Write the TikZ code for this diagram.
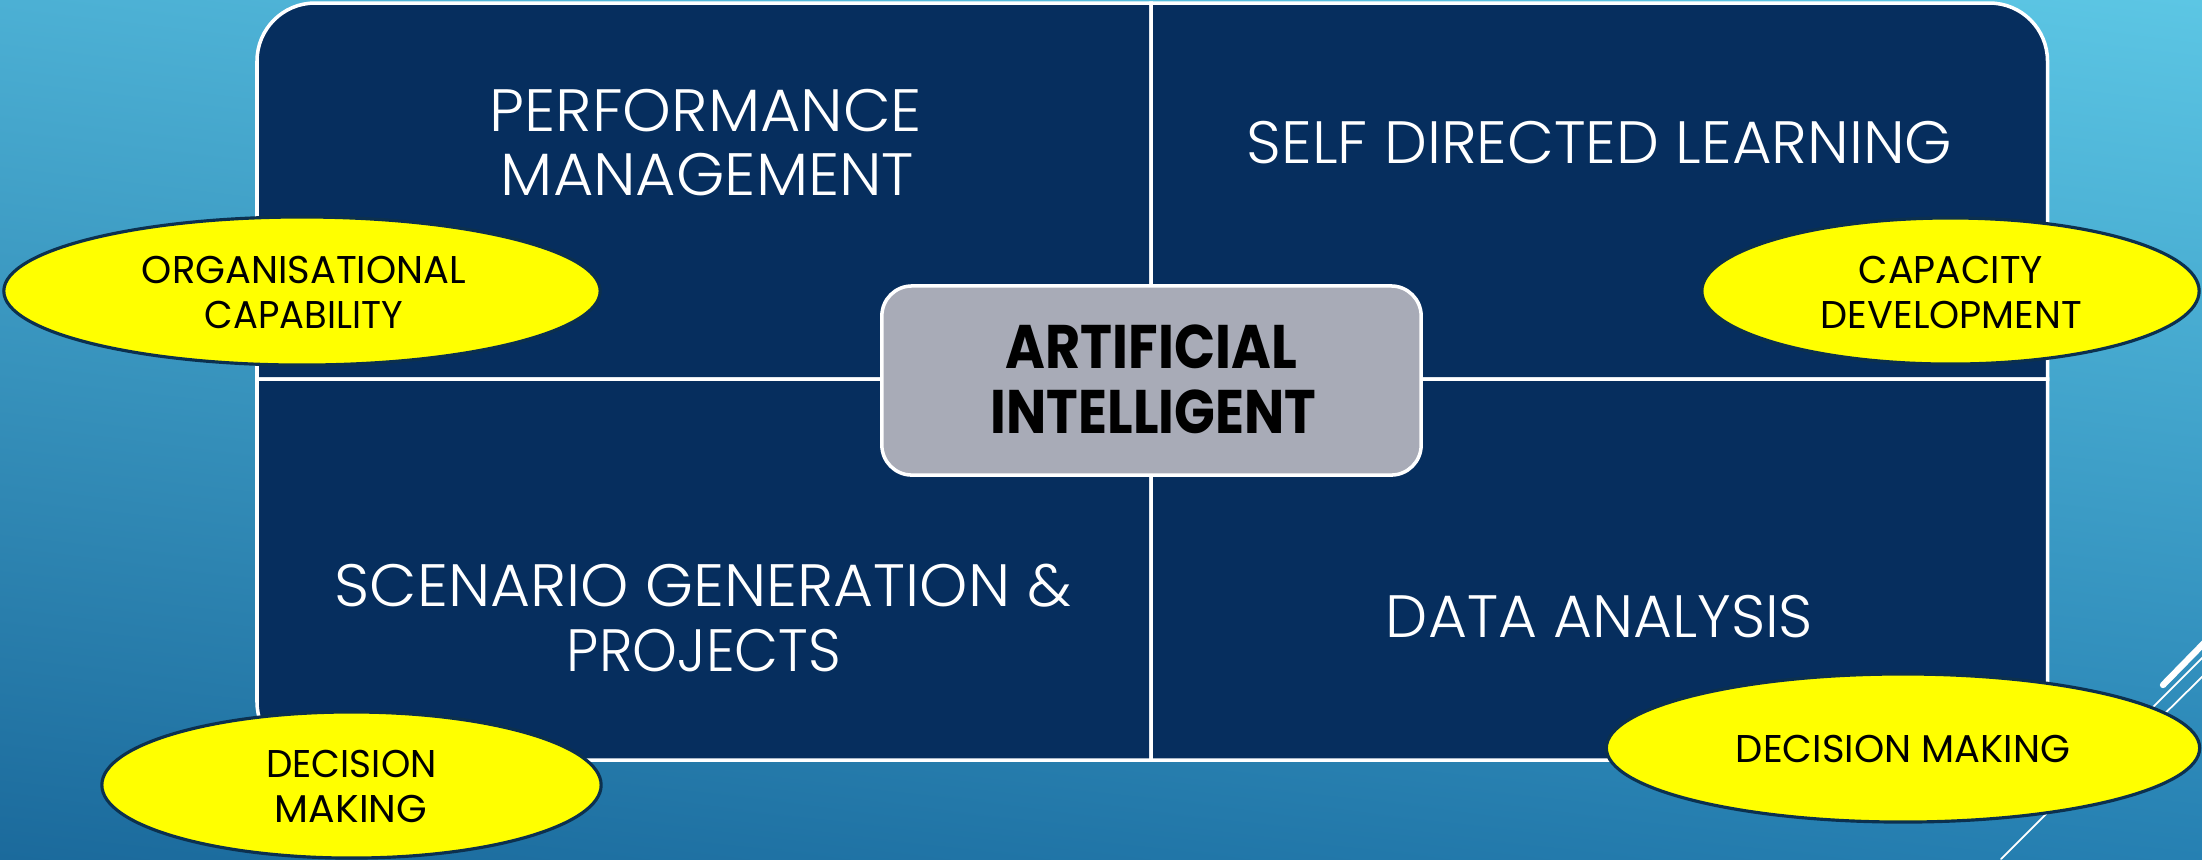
\documentclass[tikz,border=0pt]{standalone}
\usepackage{fontspec}
\usepackage{graphicx}
\setmainfont{Poppins}
\IfFontExistsTF{Poppins Light}{\newfontfamily\qfont{Poppins Light}}{\newfontfamily\qfont{Poppins}}
\usetikzlibrary{shapes.geometric,shadings}
\definecolor{bgTL}{RGB}{76,176,212}
\definecolor{bgTR}{RGB}{92,198,228}
\definecolor{bgBL}{RGB}{27,106,156}
\definecolor{bgBR}{RGB}{38,128,178}
\definecolor{navy}{RGB}{6,46,94}
\definecolor{aigrey}{RGB}{168,171,183}
\definecolor{ylw}{RGB}{255,255,0}
\definecolor{ellline}{RGB}{12,48,78}
\newlength\natw
\newcommand\fitpx[2]{\settowidth\natw{#2}\pgfmathsetmacro\fitratio{#1*0.284528/\natw}\scalebox{\fitratio}[1]{#2}}
\tikzset{
  quad/.style={fill=navy, draw=white, line width=1pt},
  qtext/.style={text=white, font=\qfont\fontsize{17}{20}\selectfont, anchor=base, inner sep=0pt},
  aitext/.style={text=black, font=\bfseries\fontsize{17.5}{21}\selectfont, anchor=base, inner sep=0pt},
  oval/.style={ellipse, fill=ylw, draw=ellline, line width=0.9pt, inner sep=0pt},
  otext/.style={text=black, font=\fontsize{11}{13}\selectfont, anchor=base, inner sep=0pt},
  aibox/.style={rectangle, rounded corners=0.3cm, fill=aigrey, draw=white, line width=1pt, minimum width=5.39cm, minimum height=1.89cm, inner sep=0pt},
  deco/.style={draw=white, line cap=round}
}
\begin{document}
\begin{tikzpicture}[x=0.01cm,y=-0.01cm]
\useasboundingbox (0,0) rectangle (2202,859);
\shade[upper left=bgTL, upper right=bgTR, lower left=bgBL, lower right=bgBR] (0,0) rectangle (2202,859);
% decorative lines
\draw[deco, line width=0.5pt] (2001,859) -- (2207,653);
\draw[deco, line width=0.5pt] (2140,738) -- (2207,672);
\draw[deco, line width=1.8pt] (2163,685) -- (2207,640);
% quadrants
\draw[quad] (257,379) -- (257,61) arc[start angle=180, delta angle=90, radius=58] -- (1151,3) -- (1151,379) -- cycle;
\draw[quad] (1151,379) -- (1151,3) -- (1989.5,3) arc[start angle=270, delta angle=90, radius=58] -- (2047.5,379) -- cycle;
\draw[quad] (257,379) -- (1151,379) -- (1151,760) -- (315,760) arc[start angle=90, delta angle=90, radius=58] -- cycle;
\draw[quad] (1151,379) -- (2047.5,379) -- (2047.5,702) arc[start angle=0, delta angle=90, radius=58] -- (1151,760) -- cycle;
% centre box
\node[aibox] (ai) at (1151.5,380.5) {};
\node[aitext] (ai1) at (1151.5,368) {\fitpx{291}{ARTIFICIAL}};
\node[aitext] (ai2) at (1153.5,433) {\fitpx{325}{INTELLIGENT}};
% quadrant texts
\node[qtext] (pm1) at (706,131) {\fitpx{432}{PERFORMANCE}};
\node[qtext] (pm2) at (707.5,195) {\fitpx{413}{MANAGEMENT}};
\node[qtext] (sdl) at (1599.5,163) {\fitpx{705}{SELF DIRECTED LEARNING}};
\node[qtext] (sg1) at (703,606) {\fitpx{736}{SCENARIO GENERATION \&}};
\node[qtext] (sg2) at (704,671) {\fitpx{274}{PROJECTS}};
\node[qtext] (da) at (1599.5,637) {\fitpx{427}{DATA ANALYSIS}};
% ellipses
\node[oval, minimum width=5.96cm, minimum height=1.48cm] (e1) at (302,291) {};
\node[oval, minimum width=4.97cm, minimum height=1.46cm] (e2) at (1950.5,291) {};
\node[oval, minimum width=4.99cm, minimum height=1.46cm] (e3) at (351.5,785) {};
\node[oval, minimum width=5.93cm, minimum height=1.48cm] (e4) at (1903,748) {};
\node[otext] (t1a) at (304,283) {\fitpx{324}{ORGANISATIONAL}};
\node[otext] (t1b) at (304,328) {\fitpx{198}{CAPABILITY}};
\node[otext] (t2a) at (1951,283) {\fitpx{184}{CAPACITY}};
\node[otext] (t2b) at (1951.5,328) {\fitpx{261}{DEVELOPMENT}};
\node[otext] (t3a) at (351.5,777) {\fitpx{170}{DECISION}};
\node[otext] (t3b) at (351,822) {\fitpx{152}{MAKING}};
\node[otext] (t4) at (1903,762) {\fitpx{334}{DECISION MAKING}};
\end{tikzpicture}
\end{document}
